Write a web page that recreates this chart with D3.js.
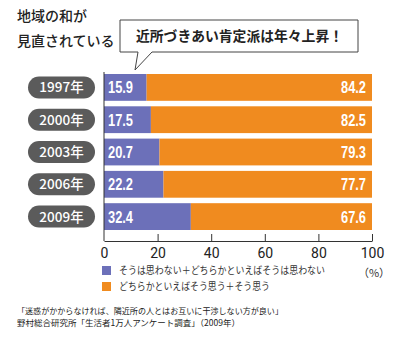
<!DOCTYPE html>
<html><head><meta charset="utf-8">
<script src="https://cdn.jsdelivr.net/npm/d3@7"></script>
<style>body{margin:0;background:#fff}svg{display:block}</style>
</head><body>
<script>
const years = ["1997年","2000年","2003年","2006年","2009年"];
const disagree = [15.9, 17.5, 20.7, 22.2, 32.4];
const agree = [84.2, 82.5, 79.3, 77.7, 67.6];
const xTicks = [0, 20, 40, 60, 80, 100];
const legendLabels = ["そうは思わない＋どちらかといえばそうは思わない", "どちらかといえばそう思う＋そう思う"];
const titleLines = ["地域の和が", "見直されている"];
const calloutText = "近所づきあい肯定派は年々上昇！";
const noteLines = ["「迷惑がかからなければ、隣近所の人とはお互いに干渉しない方が良い」", "野村総合研究所「生活者1万人アンケート調査」（2009年）"];

const W = 400, H = 347;
const jp = "'Noto Sans CJK JP', 'Noto Sans', sans-serif";
const num = "'Liberation Sans', 'Roboto', sans-serif";
const blue = "#6c70b9", orange = "#f08b1f";

const svg = d3.select("body").append("svg").attr("width", W).attr("height", H);

const x = d3.scaleLinear().domain([0, 100]).range([104, 372]);
const y = d3.scaleBand().domain(years).range([74, 230]).paddingInner(0.17).paddingOuter(0);

// title
svg.append("g").selectAll("text").data(titleLines).join("text")
  .attr("x", 17).attr("y", (d, i) => 21 + i * 25)
  .attr("font-family", jp).attr("font-size", 14).attr("font-weight", 500).attr("fill", "#222")
  .text(d => d);

// callout
const cx0 = 120, cx1 = 358, cy0 = 20, cy1 = 52;
svg.append("path")
  .attr("d", `M${cx0},${cy0} H${cx1} V${cy1} H152 L135,70 L138,${cy1} H${cx0} Z`)
  .attr("fill", "#fff").attr("stroke", "#444").attr("stroke-width", 1);
svg.append("text").attr("x", 136).attr("y", 40.5)
  .attr("font-family", jp).attr("font-size", 14).attr("font-weight", 700).attr("fill", "#222")
  .attr("textLength", 207).attr("lengthAdjust", "spacingAndGlyphs")
  .text(calloutText);

// bars
const rows = years.map((yr, i) => ({yr, a: disagree[i], b: agree[i]}));
const g = svg.append("g");
g.selectAll("rect.a").data(rows).join("rect").attr("class", "a")
  .attr("x", x(0)).attr("y", d => y(d.yr)).attr("width", d => x(d.a) - x(0)).attr("height", y.bandwidth())
  .attr("fill", blue);
g.selectAll("rect.b").data(rows).join("rect").attr("class", "b")
  .attr("x", d => x(d.a)).attr("y", d => y(d.yr)).attr("width", d => x(100) - x(d.a)).attr("height", y.bandwidth())
  .attr("fill", orange);
g.selectAll("text.a").data(rows).join("text").attr("class", "a")
  .attr("x", x(0) + 4).attr("y", d => y(d.yr) + y.bandwidth() / 2 + 6)
  .attr("font-family", num).attr("font-size", 16).attr("font-weight", 700).attr("fill", "#fff")
  .attr("textLength", 25).attr("lengthAdjust", "spacingAndGlyphs")
  .text(d => d.a.toFixed(1));
g.selectAll("text.b").data(rows).join("text").attr("class", "b")
  .attr("x", x(100) - 31).attr("y", d => y(d.yr) + y.bandwidth() / 2 + 6)
  .attr("font-family", num).attr("font-size", 16).attr("font-weight", 700).attr("fill", "#fff")
  .attr("textLength", 25).attr("lengthAdjust", "spacingAndGlyphs")
  .text(d => d.b.toFixed(1));

// year pills
const pills = svg.append("g");
pills.selectAll("rect").data(years).join("rect")
  .attr("x", 28).attr("width", 67).attr("y", d => y(d) + y.bandwidth() / 2 - 11).attr("height", 22)
  .attr("rx", 11).attr("fill", "#5b5b5b");
pills.selectAll("text").data(years).join("text")
  .attr("x", 61.5).attr("y", d => y(d) + y.bandwidth() / 2 + 5).attr("text-anchor", "middle")
  .attr("font-family", jp).attr("font-size", 13.5).attr("font-weight", 500).attr("fill", "#fff")
  .text(d => d);

// axes
const axisY = 241;
svg.append("line").attr("x1", x(0)).attr("x2", x(0)).attr("y1", 72).attr("y2", axisY).attr("stroke", "#333");
const xAxis = svg.append("g").attr("transform", `translate(0,${axisY})`)
  .call(d3.axisBottom(x).tickValues(xTicks).tickSize(-7).tickPadding(5).tickSizeOuter(0));
xAxis.select(".domain").attr("stroke", "#333");
xAxis.selectAll(".tick line").attr("stroke", "#333");
xAxis.selectAll(".tick").filter(d => d === 0).select("line").remove();
xAxis.selectAll(".tick text").attr("font-family", "'Roboto', 'Liberation Sans', sans-serif").attr("font-size", 14).attr("fill", "#222").attr("dy", "0.85em");

// legend
const leg = svg.append("g");
[blue, orange].forEach((c, i) => {
  leg.append("rect").attr("x", 102).attr("y", 266 + i * 16).attr("width", 9).attr("height", 9).attr("fill", c);
  leg.append("text").attr("x", 119).attr("y", 274 + i * 16)
    .attr("font-family", jp).attr("font-size", 10.5).attr("fill", "#333")
    .attr("textLength", i === 0 ? 206 : 151).attr("lengthAdjust", "spacingAndGlyphs")
    .text(legendLabels[i]);
});
svg.append("text").attr("x", 374).attr("y", 277).attr("text-anchor", "middle")
  .attr("font-family", jp).attr("font-size", 11).attr("fill", "#333").text("（%）");

// notes
svg.append("g").selectAll("text").data(noteLines).join("text")
  .attr("x", 17).attr("y", (d, i) => 314 + i * 12)
  .attr("font-family", jp).attr("font-size", 8.5).attr("fill", "#222")
  .attr("textLength", (d, i) => i === 0 ? 266 : 223).attr("lengthAdjust", "spacingAndGlyphs")
  .text(d => d);
</script>
</body></html>
